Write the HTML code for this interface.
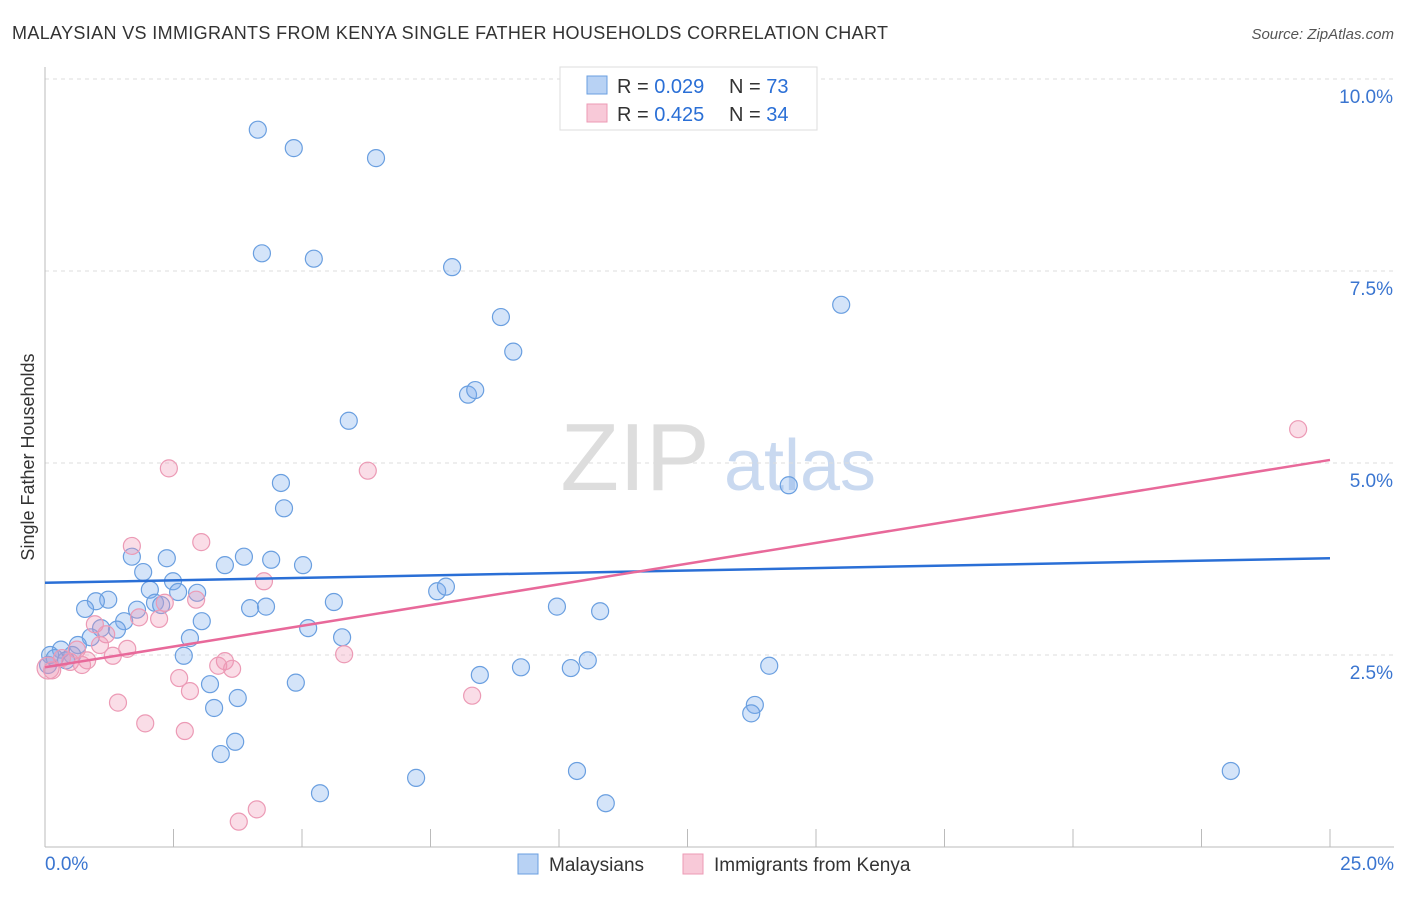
<!DOCTYPE html>
<html><head><meta charset="utf-8"><style>
body{margin:0;background:#fff;font-family:"Liberation Sans",sans-serif}
svg text{font-family:"Liberation Sans",sans-serif}
</style></head><body>
<svg id="c" width="1406" height="892">
<text x="12" y="39" font-size="18" fill="#333" textLength="876">MALAYSIAN VS IMMIGRANTS FROM KENYA SINGLE FATHER HOUSEHOLDS CORRELATION CHART</text>
<text x="1394" y="39" font-size="15" fill="#555" font-style="italic" text-anchor="end">Source: ZipAtlas.com</text>
<g><text x="635" y="490" font-size="96" fill="#ddd" font-family="Liberation Serif" text-anchor="middle">ZIP</text><text x="800" y="490" font-size="72" fill="#c9d9f0" text-anchor="middle">atlas</text></g>
<g id="grid"></g><g id="axes"></g><g id="pts"></g><g id="lines"></g>
<text transform="translate(34,457) rotate(-90)" font-size="18" fill="#333" text-anchor="middle">Single Father Households</text>
<g>
<rect x="560" y="67" width="257" height="63" fill="#fff" stroke="#ddd"/>
<rect x="587" y="76" width="20" height="18" fill="#b8d2f4" stroke="#6a9fe0"/>
<rect x="587" y="104" width="20" height="18" fill="#f8c9d8" stroke="#ec9ab5"/>
<text x="617" y="93" font-size="20" fill="#333">R = <tspan fill="#2a6fd6">0.029</tspan></text>
<text x="729" y="93" font-size="20" fill="#333">N = <tspan fill="#2a6fd6">73</tspan></text>
<text x="617" y="121" font-size="20" fill="#333">R = <tspan fill="#2a6fd6">0.425</tspan></text>
<text x="729" y="121" font-size="20" fill="#333">N = <tspan fill="#2a6fd6">34</tspan></text>
</g>
<g>
<rect x="518" y="854" width="20" height="20" fill="#b8d2f4" stroke="#6a9fe0"/>
<text x="549" y="871" font-size="19" fill="#333">Malaysians</text>
<rect x="683" y="854" width="20" height="20" fill="#f8c9d8" stroke="#ec9ab5"/>
<text x="714" y="871" font-size="19" fill="#333">Immigrants from Kenya</text>
</g>
</svg>
<script>
const blueX=[4.14,4.84,6.44,4.22,5.23,7.92,15.49,8.87,9.11,8.23,8.37,5.91,14.47,4.59,4.65,1.69,2.37,3.87,4.40,5.02,3.50,1.91,2.49,2.04,2.59,2.96,1.23,0.99,0.78,2.14,1.79,2.26,3.99,4.30,5.62,7.63,7.80,9.96,10.80,3.05,1.54,1.40,1.09,0.89,2.82,5.12,5.78,0.64,0.31,0.10,0.53,2.70,0.41,0.19,10.56,9.26,10.23,8.46,14.09,3.21,4.88,3.75,3.29,13.81,13.74,3.70,3.42,7.22,10.35,23.07,5.35,10.91,0.06];
const blueY=[9.34,9.10,8.97,7.73,7.66,7.55,7.06,6.90,6.45,5.89,5.95,5.55,4.71,4.74,4.41,3.78,3.76,3.78,3.74,3.67,3.67,3.58,3.46,3.35,3.32,3.31,3.22,3.20,3.10,3.18,3.09,3.15,3.11,3.13,3.19,3.33,3.39,3.13,3.07,2.94,2.94,2.83,2.85,2.73,2.72,2.85,2.73,2.63,2.57,2.50,2.50,2.49,2.43,2.46,2.43,2.34,2.33,2.24,2.36,2.12,2.14,1.94,1.81,1.85,1.74,1.37,1.21,0.90,0.99,0.99,0.70,0.57,2.37];
const pinkX=[2.41,6.28,24.38,1.69,3.04,4.26,2.33,2.94,1.83,2.22,0.97,1.19,1.07,1.60,1.32,0.62,0.82,0.49,0.72,0.33,0.14,0.06,5.82,3.50,3.37,3.64,2.61,2.82,8.31,1.42,1.95,2.72,4.12,3.77];
const pinkY=[4.93,4.90,5.44,3.92,3.97,3.46,3.18,3.22,2.99,2.97,2.90,2.77,2.63,2.58,2.49,2.57,2.43,2.41,2.37,2.46,2.30,2.33,2.51,2.42,2.36,2.32,2.20,2.03,1.97,1.88,1.61,1.51,0.49,0.33];
const blueTrend=[3.44,3.76];
const pinkTrend=[2.34,5.04];
const yTicks=[2.5,5.0,7.5,10.0];
const xTickLabels=["0.0%","25.0%"];
const NS="http://www.w3.org/2000/svg";
const sx=v=>45+v*51.4, sy=v=>847-v*76.8;
function mk(t,a,p){const e=document.createElementNS(NS,t);for(const k in a)e.setAttribute(k,a[k]);p.appendChild(e);return e;}
const grid=document.getElementById('grid'),axes=document.getElementById('axes');
yTicks.forEach(v=>{
 const l=mk('line',{x1:45,x2:1394,y1:sy(v),y2:sy(v),stroke:'#ddd','stroke-dasharray':'4,4'},grid);
 
 
 const t=mk('text',{x:1393,y:sy(v)+24,'font-size':19,fill:'#3a75d0','text-anchor':'end'},axes);
 t.textContent=v.toFixed(1)+'%';
 
 
});
const ax=mk('line',{x1:45,x2:45,y1:67,y2:847,stroke:'#bbb'},axes);


const bx=mk('line',{x1:45,x2:1394,y1:847,y2:847,stroke:'#bbb'},axes);


for(let i=0;i<=10;i++){const tk=mk('line',{x1:sx(i*2.5),x2:sx(i*2.5),y1:829,y2:847,stroke:'#bbb'},axes);
 
 }
[[0,xTickLabels[0],'start',45],[25,xTickLabels[1],'end',1394]].forEach(d=>{
 const t=mk('text',{x:d[3],y:870,'font-size':19,fill:'#3a75d0','text-anchor':d[2]},axes);t.textContent=d[1];
 
 
});
const pts=document.getElementById('pts');
blueX.forEach((x,i)=>{const c=mk('circle',{cx:sx(x),cy:sy(blueY[i]),r:8.5,fill:'rgba(120,170,235,0.32)',stroke:'#6a9fe0','stroke-width':1.2},pts);
 
 });
pinkX.forEach((x,i)=>{const c=mk('circle',{cx:sx(x),cy:sy(pinkY[i]),r:i==21?11:8.5,fill:'rgba(240,150,180,0.32)',stroke:'#ec9ab5','stroke-width':1.2},pts);
 
 });
const lines=document.getElementById('lines');
const b=mk('line',{x1:sx(0),x2:sx(25),y1:sy(blueTrend[0]),y2:sy(blueTrend[1]),stroke:'#2a6fd6','stroke-width':2.5},lines);


const p=mk('line',{x1:sx(0),x2:sx(25),y1:sy(pinkTrend[0]),y2:sy(pinkTrend[1]),stroke:'#e8699a','stroke-width':2.5},lines);


</script>
</body></html>
